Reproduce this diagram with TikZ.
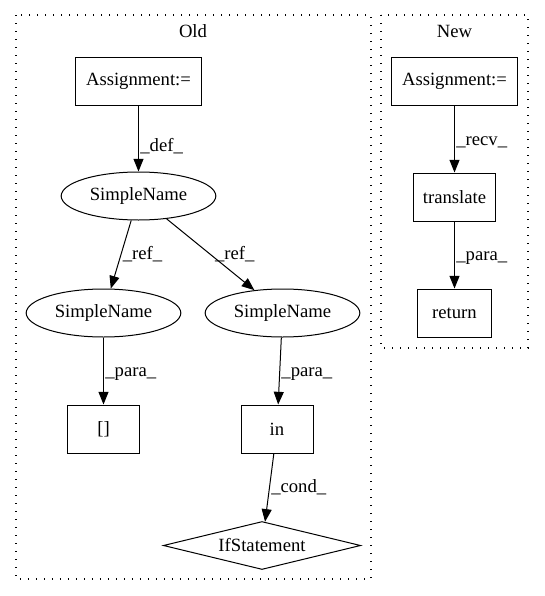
\documentclass[tikz,border=0pt]{standalone}
\usepackage{fontspec}
\setmainfont{Liberation Serif}
\usetikzlibrary{shapes.geometric,arrows.meta}
\begin{document}
\begin{tikzpicture}[x=0.75pt, y=-0.75pt, line join=miter, font=\fontsize{14}{16}\selectfont]
			\tikzset{box style/.style={draw, line width=0.75pt, minimum width=#1, minimum height=36pt, inner sep=0pt},
				oval style/.style={draw, ellipse, line width=0.75pt, minimum width=116pt, minimum height=36pt, inner sep=0pt},
				cond style/.style={draw, diamond, aspect=4, line width=0.75pt, minimum width=148pt, minimum height=36pt, inner sep=1pt},
				edge style/.style={line width=0.75pt, -{Triangle[length=9.5pt,width=7.5pt]}},
				lab style/.style={anchor=west, inner sep=1pt, pos=.55},
				cluster style/.style={line width=0.8pt, dash pattern=on 0.8pt off 5.2pt}}
			\useasboundingbox (0,0) rectangle (544,596);
			\draw[cluster style] (16,15) rectangle (371,579);
			\draw[cluster style] (381,15) rectangle (528,348);
			\node (oldlbl) at (193,31) {Old};
			\node (newlbl) at (454.5,31) {New};
			% old version
			\node[box style=94.5pt] (oa) at (138.5,81) {Assignment:=};
			\node[oval style] (sn) at (138.5,196) {SimpleName};
			\node[oval style] (snl) at (103.5,313) {SimpleName};
			\node[oval style] (snr) at (282.5,313) {SimpleName};
			\node[box style=54pt] (idx) at (103.5,429) {[]};
			\node[box style=54pt] (inop) at (277,429) {in};
			\node[cond style] (ifs) at (262,545.5) {IfStatement};
			\draw[edge style] (oa) -- node[lab style, pos=.62]{\_def\_} (sn);
			\draw[edge style] (sn) -- node[lab style, pos=.5]{\_ref\_} (snl);
			\draw[edge style] (sn) -- node[lab style, pos=.5, xshift=2pt]{\_ref\_} (snr);
			\draw[edge style] (snl) -- node[lab style]{\_para\_} (idx);
			\draw[edge style] (snr) -- node[lab style]{\_para\_} (inop);
			\draw[edge style] (inop) -- node[lab style, pos=.5]{\_cond\_} (ifs);
			% new version
			\node[box style=94pt] (na) at (454.5,81) {Assignment:=};
			\node[box style=62pt] (tr) at (454.5,197) {translate};
			\node[box style=55pt] (ret) at (454.5,313) {return};
			\draw[edge style] (na) -- node[lab style]{\_recv\_} (tr);
			\draw[edge style] (tr) -- node[lab style]{\_para\_} (ret);
	\end{tikzpicture}
\end{document}
